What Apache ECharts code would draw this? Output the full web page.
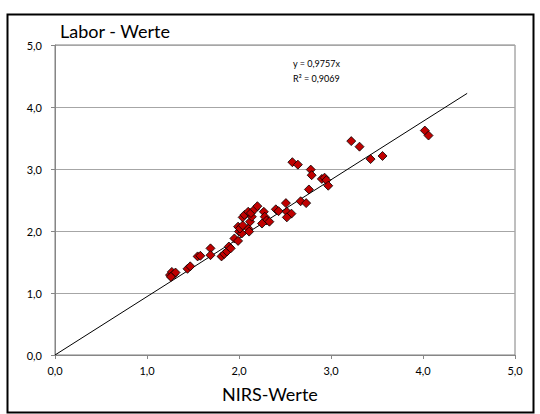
<!DOCTYPE html>
<html>
<head>
<meta charset="utf-8">
<script src="https://cdn.jsdelivr.net/npm/echarts@6/dist/echarts.min.js"></script>
<style>
html,body{margin:0;padding:0;background:#fff;}
#c{width:540px;height:414px;}
</style>
</head>
<body>
<div id="c"></div>
<script>
var nirsValues = [1.25,1.27,1.29,1.31,1.26,1.44,1.47,1.55,1.58,1.69,1.69,1.81,1.84,1.87,1.89,1.91,1.95,1.99,2.00,2.03,2.10,2.11,1.99,2.01,2.04,2.12,2.14,2.04,2.06,2.10,2.13,2.17,2.20,2.27,2.28,2.30,2.33,2.40,2.43,2.51,2.52,2.57,2.52,2.67,2.73,2.76,2.78,2.79,2.90,2.93,2.95,2.97,2.58,2.64,3.22,3.31,3.43,3.56,4.02,4.06,2.25];
var laborValues = [1.29,1.34,1.30,1.33,1.26,1.39,1.43,1.59,1.60,1.72,1.61,1.59,1.63,1.67,1.75,1.72,1.88,1.84,1.99,1.96,2.04,1.99,2.07,2.04,2.09,2.15,2.23,2.22,2.26,2.31,2.29,2.35,2.40,2.31,2.23,2.17,2.15,2.35,2.32,2.45,2.31,2.28,2.22,2.48,2.45,2.67,2.99,2.90,2.84,2.86,2.82,2.73,3.11,3.07,3.45,3.36,3.16,3.21,3.62,3.54,2.12];
var trendX = [0, 4.48];
var trendY = [0, 4.22];
var xTicks = [0,1,2,3,4,5];
var yTicks = [0,1,2,3,4,5];
var titleText = 'Labor - Werte';
var xName = 'NIRS-Werte';
var eqText = 'y = 0,9757x';
var r2Text = 'R² = 0,9069';

var pts = nirsValues.map(function(x,i){return [x, laborValues[i]];});
var trend = trendX.map(function(x,i){return [x, trendY[i]];});
function fmt(v){return v.toFixed(1).replace('.', ',');}
var FONT = 'Lato, "Open Sans", sans-serif';

var chart = echarts.init(document.getElementById('c'), null, {renderer:'svg'});
chart.setOption({
  animation:false,
  backgroundColor:'#fff',
  grid:{left:55, right:25, top:45, bottom:59, show:true, borderColor:'#7f7f7f', borderWidth:1, containLabel:false},
  xAxis:{type:'value', min:xTicks[0], max:xTicks[xTicks.length-1], interval:1,
    axisLine:{show:true, onZero:false, lineStyle:{color:'#868686'}},
    axisTick:{show:true, inside:false, length:4, lineStyle:{color:'#868686'}},
    axisLabel:{formatter:fmt, fontFamily:FONT, fontSize:11, color:'#000', margin:10},
    splitLine:{show:false}},
  yAxis:{type:'value', min:yTicks[0], max:yTicks[yTicks.length-1], interval:1,
    axisLine:{show:true, onZero:false, lineStyle:{color:'#868686'}},
    axisTick:{show:true, inside:false, length:4, lineStyle:{color:'#868686'}},
    axisLabel:{formatter:fmt, fontFamily:FONT, fontSize:11, color:'#000', margin:13},
    splitLine:{show:true, lineStyle:{color:'#a6a6a6', width:1}}},
  graphic:[
    {type:'rect', left:5, top:12, shape:{width:526, height:398}, style:{fill:'none', stroke:'#000', lineWidth:2}, silent:true, z:-1},
    {type:'text', left:60, top:22, style:{text:titleText, font:'normal 18px '+FONT, fill:'#000'}},
    {type:'text', left:222, top:385, style:{text:xName, font:'normal 18px '+FONT, fill:'#000'}},
    {type:'text', left:293, top:59, style:{text:eqText, font:'normal 9px '+FONT, fill:'#000'}},
    {type:'text', left:293, top:74, style:{text:r2Text, font:'normal 9px '+FONT, fill:'#000'}}
  ],
  series:[
    {type:'line', data:trend, showSymbol:false, symbol:'none', lineStyle:{color:'#000', width:1}, z:1, silent:true},
    {type:'scatter', data:pts, symbol:'diamond', symbolSize:9,
      itemStyle:{color:'#c00000', borderColor:'#000', borderWidth:0.8, opacity:1}, z:2}
  ]
});
</script>
</body>
</html>
